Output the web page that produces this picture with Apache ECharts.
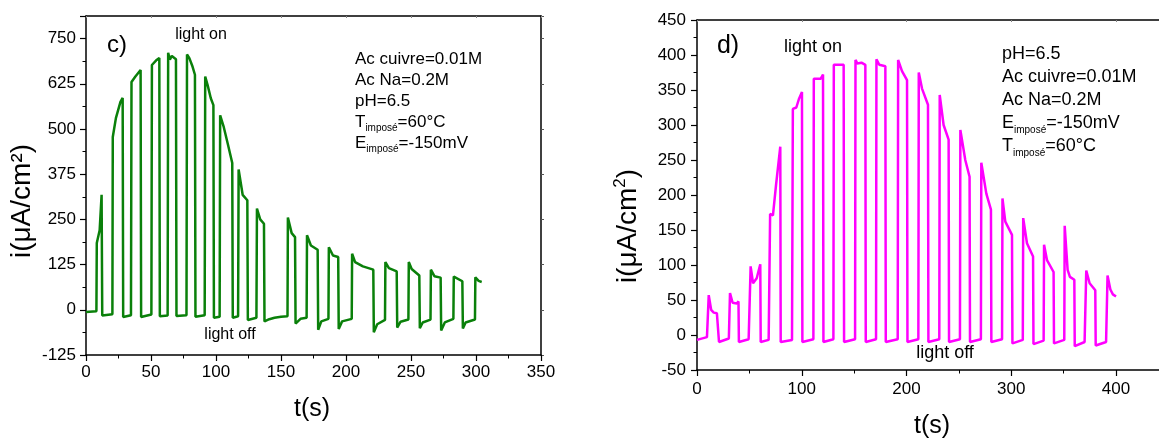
<!DOCTYPE html>
<html><head><meta charset="utf-8">
<script src="https://cdn.jsdelivr.net/npm/echarts@6/dist/echarts.min.js"></script>
<style>html,body{margin:0;padding:0;background:#fff}#c{width:1159px;height:439px}</style>
</head><body><div id="c"></div>
<script>
// ---- Panel c) data (t in s, i in µA/cm²) ----
const timeC = [0,8,8.3,10.5,12,12.5,20.3,20.6,23,26.5,28.2,28.6,34.6,35,38,42,42.4,50.3,50.7,54,56.4,56.8,62.8,63.2,64.5,66,69.2,69.6,77.3,77.7,79.5,82,83.8,84.2,91.3,91.7,93.5,96,98,98.4,102.8,103.2,106,109,112.5,112.9,117,117.4,120.5,124.1,124.5,131.1,131.5,134,136.9,137.3,141,145,150,155,155.3,158.2,160.8,161.2,165,169.7,170,173,178.2,178.6,181,186.5,186.8,190,194,194.4,197,204.4,204.7,207,213,221,221.4,224,230,230.3,233,239,239.4,242,248,248.3,250.5,256.4,256.8,259,265,265.3,268,272.8,273.2,276,282.6,282.9,289.5,289.9,292,299.2,299.5,302,304.4];
const currentC = [-6,-4,185,220,318,-16,-12,478,530,575,586,-20,-15,630,645,663,-20,-13,677,690,696,-18,-16,711,692,702,693,-17,-15,706,696,672,650,-19,-15,645,622,585,566,-22,-19,538,505,460,406,-22,-18,388,318,303,-28,-22,280,250,238,-32,-26,-22,-19,-18,255,212,201,-38,-25,-22,206,178,166,-55,-32,-25,173,150,146,-53,-32,-25,155,132,120,111,-62,-40,-28,132,115,106,-49,-33,-27,132,113,95,-51,-35,-27,111,93,89,-57,-35,-25,92,79,-52,-35,-27,90,80,77];

// ---- Panel d) data ----
const timeD = [0,9.5,10.8,11.2,13.5,16,19,20.5,21,30.4,31.5,34,38,39.6,40,49.3,51.2,53.5,57,60.4,60.8,68.4,69.8,72.5,75.5,79.5,79.9,90.7,91.5,94.8,97.5,100.2,100.6,111.1,111.5,118,120.3,120.7,130.2,130.6,140,140.4,150.9,151.3,153,157,160.7,161.1,170.9,171.3,174,179.8,180.2,191.6,192,195.7,200.5,200.9,211.3,211.7,214.8,220.5,220.9,231.3,231.7,235.4,240.2,240.6,251,251.4,256.1,260.2,260.6,271,271.4,276.2,280.6,281,291.2,291.6,294.3,300.7,301.1,311,311.4,315,320.8,321.2,330.9,331.3,334.1,340.4,340.8,350.6,351,353.8,356,360.2,360.6,370,371.6,374.8,380.2,380.6,390.5,391.9,394.6,397,400];
const currentD = [-7,-3,-3,57,36,32,31,33,-10,-5,60,46,45,48,-10,-6,98,74,81,101,-10,-7,173,171,215,269,-10,-7,323,325,338,347,-10,-6,366,366,372,-10,-6,386,386,-10,-6,393,388,389,386,-10,-6,394,386,384,-10,-6,393,377,364,-10,-6,375,352,329,-10,-6,343,300,279,-10,-6,293,250,226,-10,-6,246,202,179,-10,-6,195,162,143,-12,-7,167,131,112,-13,-8,129,107,90,-12,-7,156,93,83,79,-16,-10,92,74,64,-15,-10,85,65,58,55];

// ---- tick labels ----
const xTicksC = [0,50,100,150,200,250,300,350];
const yTicksC = [-125,0,125,250,375,500,625,750];
const xTicksD = [0,100,200,300,400];
const yTicksD = [-50,0,50,100,150,200,250,300,350,400,450];

const paramsC = ['Ac cuivre=0.01M','Ac Na=0.2M','pH=6.5',['T','imposé','=60°C'],['E','imposé','=-150mV']];
const paramsD = ['pH=6.5','Ac cuivre=0.01M','Ac Na=0.2M',['E','imposé','=-150mV'],['T','imposé','=60°C']];

const F = "'Liberation Sans', Arial, sans-serif";
const zip = (a,b) => a.map((v,i)=>[v,b[i]]);

function axis(ticks, opt) {
  const base = {
    type:'value', min: ticks[0], interval: ticks[1]-ticks[0], max: ticks[ticks.length-1],
    axisLine:{show:true,onZero:false,lineStyle:{color:'#000',width:1.5}},
    axisTick:{show:true,inside:false,length:6,lineStyle:{color:'#000',width:1.2}},
    minorTick:{show:true,splitNumber:2,length:3.5,lineStyle:{color:'#000',width:1}},
    splitLine:{show:false}, minorSplitLine:{show:false},
    axisLabel:{color:'#000',fontSize:17,fontFamily:F,margin:9}
  };
  return Object.assign(base, opt||{});
}
function mirror(ticks, opt) {
  return axis(ticks, Object.assign({
    axisLabel:{show:false},
    axisTick:{show:true,inside:true,length:2,lineStyle:{color:'#888',width:1}},
    minorTick:{show:false}
  }, opt));
}

function paramBlock(lines, x, y, fs, lh, sub) {
  const txt = lines.map(l => Array.isArray(l) ? '{a|'+l[0]+'}{b|'+l[1]+'}{a|'+l[2]+'}' : '{a|'+l+'}').join('\n');
  return {type:'text', x:x, y:y, style:{text:txt, align:'left', verticalAlign:'top', fill:'#000',
    rich:{a:{fontSize:fs,fontFamily:F,lineHeight:lh,fill:'#000'},
          b:{fontSize:sub,fontFamily:F,lineHeight:4,verticalAlign:'bottom',fill:'#000'}}}};
}
function label(text, x, y, fs, rot) {
  return {type:'text', x:x, y:y, rotation: rot||0, style:{text:text, align:'center', verticalAlign:'middle', fontSize:fs, fontFamily:F, fill:'#000'}};
}

const chart = echarts.init(document.getElementById('c'), null, {renderer:'canvas'});
chart.setOption({
  animation:false,
  backgroundColor:'#fff',
  grid:[
    {left:86, top:16, width:455, height:339, containLabel:false, outerBoundsMode:'none'},
    {left:697, top:20, width:471.4, height:350, containLabel:false, outerBoundsMode:'none'}
  ],
  xAxis:[
    axis(xTicksC,{gridIndex:0, position:'bottom'}),
    mirror(xTicksC,{gridIndex:0, position:'top'}),
    axis(xTicksD,{gridIndex:1, position:'bottom', max:450, axisLabel:{color:'#000',fontSize:17,fontFamily:F,margin:11,showMaxLabel:false}}),
    mirror(xTicksD,{gridIndex:1, position:'top', max:450})
  ],
  yAxis:[
    axis(yTicksC,{gridIndex:0, position:'left', max:812.5, axisLabel:{color:'#000',fontSize:17,fontFamily:F,margin:10,showMaxLabel:false}}),
    mirror(yTicksC,{gridIndex:0, position:'right', max:812.5, axisTick:{show:true,inside:false,length:3,lineStyle:{color:'#555',width:1}}}),
    axis(yTicksD,{gridIndex:1, position:'left', axisLabel:{color:'#000',fontSize:17,fontFamily:F,margin:11}})
  ],
  series:[
    {type:'line', xAxisIndex:0, yAxisIndex:0, data:zip(timeC,currentC), showSymbol:false,
     lineStyle:{color:'#0a800a',width:2.5}, itemStyle:{color:'#0a800a'}},
    {type:'line', xAxisIndex:2, yAxisIndex:2, data:zip(timeD,currentD), showSymbol:false,
     lineStyle:{color:'#ff00ff',width:2.5}, itemStyle:{color:'#ff00ff'}}
  ],
  graphic:[
    label('c)',117,45,24),
    label('light on',201,35,16),
    label('light off',230,335,16),
    paramBlock(paramsC,355,49,17,21,10),
    label('t(s)',312,409,25),
    label('i(μA/cm²)',22,201,28,Math.PI/2),
    label('d)',728,46,25),
    label('light on',813,47,18),
    label('light off',945,353,18),
    paramBlock(paramsD,1002,43,18,23,10),
    label('t(s)',932,426,25),
    {type:'text', x:628, y:226, rotation:Math.PI/2, style:{text:'{a|i(μA/cm}{s|2}{a|)}', align:'center', verticalAlign:'middle', fill:'#000',
      rich:{a:{fontSize:28,fontFamily:F,lineHeight:32,fill:'#000'}, s:{fontSize:17,fontFamily:F,lineHeight:32,verticalAlign:'top',fill:'#000'}}}}
  ]
});
</script></body></html>
